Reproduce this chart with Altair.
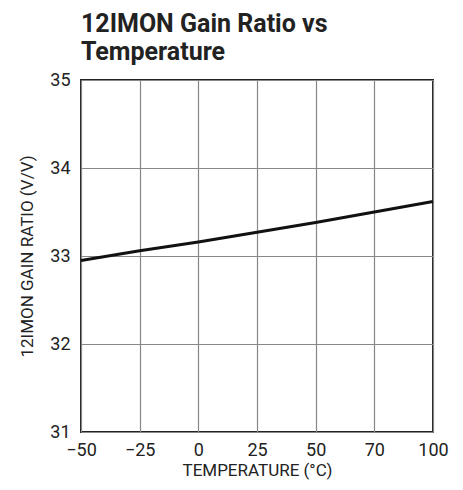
import altair as alt
import pandas as pd

temps = [-50, -25, 0, 25, 50, 75, 100]
ratio = [32.95, 33.06, 33.16, 33.27, 33.38, 33.50, 33.62]
x_ticks = [-50, -25, 0, 25, 50, 75, 100]
x_tick_labels = ["\u221250", "\u221225", "0", "25", "50", "70", "100"]
y_ticks = [31, 32, 33, 34, 35]

df = pd.DataFrame({"t": temps, "r": ratio})

label_expr = " : ".join(
    [f"datum.value == {v} ? '{l}'" for v, l in zip(x_ticks, x_tick_labels)] + ["datum.label"]
)

font = "Roboto"

chart = alt.Chart(df).mark_line(color="#111111", strokeWidth=3).encode(
    x=alt.X("t:Q", scale=alt.Scale(domain=[-50, 100], nice=False),
            axis=alt.Axis(values=x_ticks, labelExpr=label_expr,
                          title="TEMPERATURE (\u00b0C)", grid=True)),
    y=alt.Y("r:Q", scale=alt.Scale(domain=[31, 35], nice=False, zero=False),
            axis=alt.Axis(values=y_ticks, title="12IMON GAIN RATIO (V/V)", grid=True)),
).properties(
    width=352, height=352,
    title=alt.TitleParams(["12IMON Gain Ratio vs", "Temperature"], anchor="start",
                          frame="group",
                          font=font, fontSize=25, fontWeight="bold", color="#222222",
                          lineHeight=28, offset=6),
    autosize=alt.AutoSizeParams(type="none"),
    padding={"left": 73, "top": 72, "right": 22, "bottom": 50},
).configure_view(
    stroke="#222222", strokeWidth=2
).configure_axis(
    domain=False, ticks=False, gridColor="#888888", gridWidth=1.2, gridOpacity=1,
    labelFont=font, labelFontSize=18, labelColor="#222222", labelFlush=False,
    titleFont=font, titleFontSize=17, titleFontWeight="normal", titleColor="#222222",
).configure_axisY(titlePadding=13, labelPadding=11).configure_axisX(titlePadding=3, labelPadding=9)

chart.save("out.html", embed_options={"renderer": "svg", "actions": False})
